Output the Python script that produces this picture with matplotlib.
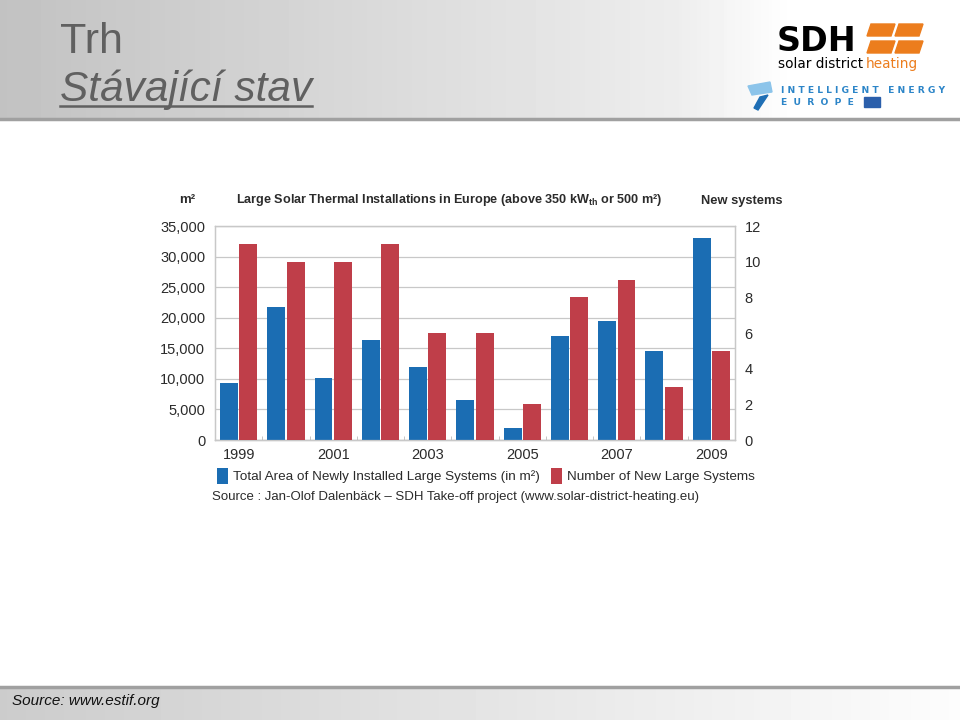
import numpy as np
import matplotlib
matplotlib.use("Agg")
import matplotlib.pyplot as plt
from matplotlib.patches import Rectangle, Polygon
from matplotlib.lines import Line2D

# data
years = [1999, 2000, 2001, 2002, 2003, 2004, 2005, 2006, 2007, 2008, 2009]
area_m2 = [9300, 21700, 10200, 16400, 11900, 6600, 2000, 17000, 19400, 14600, 33000]
new_systems = [11, 10, 10, 11, 6, 6, 2, 8, 9, 3, 5]
left_ticks = [0, 5000, 10000, 15000, 20000, 25000, 30000, 35000]
right_ticks = [0, 2, 4, 6, 8, 10, 12]
year_labels = ["1999", "2001", "2003", "2005", "2007", "2009"]

blue = "#1b6db3"
red = "#bf3e49"
txt = "#2b2b2b"
sans = ["Liberation Sans", "DejaVu Sans"]

plt.rcParams["mathtext.fontset"] = "custom"
plt.rcParams["mathtext.rm"] = "Liberation Sans:bold"

fig = plt.figure(figsize=(9.6, 7.2), dpi=100)

# slide background in pixel coordinates
bg = fig.add_axes([0, 0, 1, 1], zorder=-10)
bg.set_xlim(0, 960)
bg.set_ylim(720, 0)
bg.axis("off")
grad = np.linspace(0.76, 1.0, 256)
grad = np.clip(grad + np.concatenate([np.zeros(180), np.linspace(0, 0.1, 76)]), 0, 1)
bg.imshow(np.tile(grad, (2, 1)), cmap="gray", vmin=0, vmax=1, aspect="auto",
          extent=(0, 960, 118, 0))
grad2 = np.linspace(0.80, 0.99, 256)
bg.imshow(np.tile(grad2, (2, 1)), cmap="gray", vmin=0, vmax=1, aspect="auto",
          extent=(0, 960, 720, 687))
bg.add_line(Line2D([0, 960], [119, 119], color="#a0a0a0", lw=2.5))
bg.add_line(Line2D([0, 960], [687, 687], color="#a0a0a0", lw=2.5))

# header titles
bg.text(60, 53, "Trh", fontsize=31, color="#606060", family=sans, va="baseline")
bg.text(60, 101, "Stávající stav", fontsize=30.5, color="#606060", family=sans,
        style="italic", va="baseline")
bg.add_line(Line2D([60, 312], [106, 106], color="#606060", lw=1.8))
bg.text(12, 705, "Source: www.estif.org", fontsize=11, style="italic",
        family=sans, color="#111111", va="baseline")

# SDH logo
bg.text(777, 51, "SDH", fontsize=24, fontweight="bold", color="black",
        family=["DejaVu Sans"], va="baseline")
orange = "#ec7d1d"
for y0 in (24, 41):
    for x0 in (867, 895):
        bg.add_patch(Polygon([(x0 + 4, y0), (x0 + 28, y0), (x0 + 24, y0 + 12), (x0, y0 + 12)],
                             closed=True, color=orange))
bg.text(778, 68, "solar district ", fontsize=9.8, color="black",
        family=["DejaVu Sans"], va="baseline")
bg.text(866, 68, "heating", fontsize=9.8, color=orange, family=["DejaVu Sans"], va="baseline")

# Intelligent Energy Europe logo
ie_blue = "#2c85c8"
bg.add_patch(Polygon([(748, 86), (770, 82), (772, 92), (752, 95)], closed=True, color="#8cc4ea"))
bg.add_patch(Polygon([(760, 97), (768, 95), (758, 110), (754, 108)], closed=True, color="#1f6fb5"))
bg.text(781, 93, "I N T E L L I G E N T   E N E R G Y", fontsize=6.6, fontweight="bold",
        color=ie_blue, family=["DejaVu Sans"], va="baseline")
bg.text(781, 105, "E  U  R  O  P  E", fontsize=6.6, fontweight="bold",
        color=ie_blue, family=["DejaVu Sans"], va="baseline")
bg.add_patch(Rectangle((864, 97), 16, 10, color="#2b5fab"))

# chart
ax = fig.add_axes([215 / 960, 1 - 440 / 720, 520 / 960, 214 / 720])
ax2 = ax.twinx()
x = np.arange(len(years))
w = 0.38
b1 = ax.bar(x - 0.205, area_m2, width=w, color=blue, zorder=3)
b2 = ax2.bar(x + 0.205, new_systems, width=w, color=red, zorder=3)

ax.set_xlim(-0.5, len(years) - 0.5)
ax.set_ylim(0, 35000)
ax2.set_ylim(0, 12)
ax.set_yticks(left_ticks)
ax.set_yticklabels([f"{v:,}" for v in left_ticks])
ax2.set_yticks(right_ticks)
ax.grid(axis="y", color="#c8c8c8", lw=0.9, zorder=0)
ax.set_xticks(x[::2])
ax.set_xticklabels(year_labels)
ax.set_xticks(x[:-1] + 0.5, minor=True)
ax.tick_params(axis="x", which="major", length=0, pad=6)
ax.tick_params(axis="x", which="minor", length=3, direction="in", color="#bbbbbb")
ax.tick_params(axis="y", length=0, pad=7)
ax2.tick_params(axis="y", length=0, pad=7)
for a in (ax, ax2):
    for s in a.spines.values():
        s.set_color("#c8c8c8")
        s.set_linewidth(0.9)
    for lab in a.get_xticklabels() + a.get_yticklabels():
        lab.set_family(sans)
        lab.set_fontsize(10.5)
        lab.set_color(txt)
ax.spines["bottom"].set_color("#999999")

fig.text(187 / 960, 1 - 200 / 720, "m²", fontsize=9.5, fontweight="bold", color=txt,
         family=sans, va="center", ha="center")
fig.text(449 / 960, 1 - 200 / 720,
         r"Large Solar Thermal Installations in Europe (above 350 kW$_{\mathrm{th}}$ or 500 m²)",
         fontsize=9.1, fontweight="bold", color=txt, family=sans, va="center", ha="center")
fig.text(742 / 960, 1 - 201 / 720, "New systems", fontsize=9.3, fontweight="bold",
         color=txt, family=sans, va="center", ha="center")

leg = fig.legend([b1, b2],
                 ["Total Area of Newly Installed Large Systems (in m²)",
                  "Number of New Large Systems"],
                 loc="center left", bbox_to_anchor=(205 / 960, 1 - 476 / 720), ncol=2,
                 frameon=False, handlelength=0.8, handleheight=1.4, handletextpad=0.4,
                 columnspacing=0.8, prop={"family": sans, "size": 9.7})
for t in leg.get_texts():
    t.set_color(txt)
fig.text(212 / 960, 1 - 497 / 720,
         "Source : Jan-Olof Dalenbäck – SDH Take-off project (www.solar-district-heating.eu)",
         fontsize=9.5, color=txt, family=sans, va="center", ha="left")

fig.savefig("out.png", dpi=100)
